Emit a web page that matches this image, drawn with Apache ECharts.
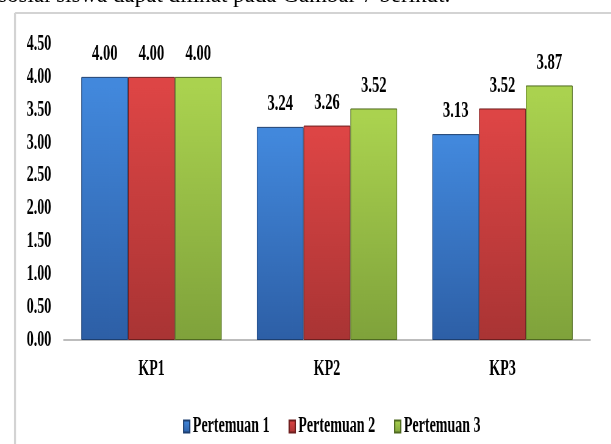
<!DOCTYPE html>
<html>
<head>
<meta charset="utf-8">
<script src="https://cdn.jsdelivr.net/npm/echarts@6/dist/echarts.min.js"></script>
<style>
  html, body { margin: 0; padding: 0; overflow: hidden; background: #fff; width: 611px; height: 444px; }
  /* the figure uses condensed type, so the whole drawing is narrowed horizontally */
  #chart { width: 1002px; height: 444px; transform: scaleX(0.61); transform-origin: 0 0; }
</style>
</head>
<body>
<div id="chart"></div>
<script>
// Data
const categories = ['KP1', 'KP2', 'KP3'];
const seriesNames = ['Pertemuan 1', 'Pertemuan 2', 'Pertemuan 3'];
const pertemuan1 = [4.00, 3.24, 3.13];
const pertemuan2 = [4.00, 3.26, 3.52];
const pertemuan3 = [4.00, 3.52, 3.87];
const yMin = 0, yMax = 4.5, yStep = 0.5;
const caption = 'sosial siswa dapat dilihat pada Gambar 7 berikut.';

const SX = 0.61;            // horizontal narrowing applied to the container
const px = v => v / SX;     // screen x -> chart x
const FONT = 'Liberation Serif';

const grad = (top, bottom) => new echarts.graphic.LinearGradient(0, 0, 0, 1, [
  { offset: 0, color: top }, { offset: 0.04, color: top }, { offset: 1, color: bottom }
]);
const palettes = [
  { fill: grad('#4288dc', '#2d5fa6'), edge: '#1d3f70' },
  { fill: grad('#dd4545', '#a93434'), edge: '#6e1f1f' },
  { fill: grad('#aad24f', '#7fa23b'), edge: '#4f6a20' }
];
const values = [pertemuan1, pertemuan2, pertemuan3];

const chart = echarts.init(document.getElementById('chart'), null, { renderer: 'canvas' });

chart.setOption({
  animation: false,
  backgroundColor: '#ffffff',
  textStyle: { fontFamily: FONT },
  grid: { left: px(63.75), right: px(21), top: 44, bottom: 104, containLabel: false, outerBoundsMode: 'none' },
  graphic: [
    {
      type: 'text', left: px(-2), top: -16, scaleX: 1 / SX,
      style: { text: caption, font: '23px "Liberation Serif"', fill: '#000' }
    },
    { type: 'line', shape: { x1: px(15), y1: 13, x2: 1010, y2: 13 }, style: { stroke: '#d3d3d3', lineWidth: 2 } },
    { type: 'line', shape: { x1: px(15), y1: 13, x2: px(15), y2: 450 }, style: { stroke: '#d3d3d3', lineWidth: 3.3 } }
  ],
  legend: {
    data: seriesNames,
    left: px(180), top: 410,
    itemWidth: 10, itemHeight: 12, itemGap: px(19),
    icon: 'rect',
    textStyle: { fontFamily: FONT, fontWeight: 'bold', fontSize: 23, color: '#000' }
  },
  xAxis: {
    type: 'category',
    data: categories,
    axisLine: { lineStyle: { color: '#bdbdbd', width: 2 } },
    axisTick: { show: false },
    axisLabel: { fontFamily: FONT, fontWeight: 'bold', fontSize: 23, color: '#000', margin: 18 }
  },
  yAxis: {
    type: 'value',
    min: yMin, max: yMax, interval: yStep,
    axisLine: { show: false },
    axisTick: { show: false },
    splitLine: { show: false },
    axisLabel: {
      fontFamily: FONT, fontWeight: 'bold', fontSize: 23, color: '#000', margin: px(12.5),
      formatter: v => v.toFixed(2)
    }
  },
  series: seriesNames.map((name, i) => ({
    name,
    type: 'bar',
    data: values[i],
    barGap: '0%',
    barCategoryGap: '20%',
    itemStyle: { color: palettes[i].fill, borderColor: palettes[i].edge, borderWidth: 1 },
    label: {
      show: true, position: 'top', distance: 11,
      fontFamily: FONT, fontWeight: 'bold', fontSize: 24, color: '#000',
      formatter: p => p.value.toFixed(2)
    }
  }))
});
</script>
</body>
</html>
